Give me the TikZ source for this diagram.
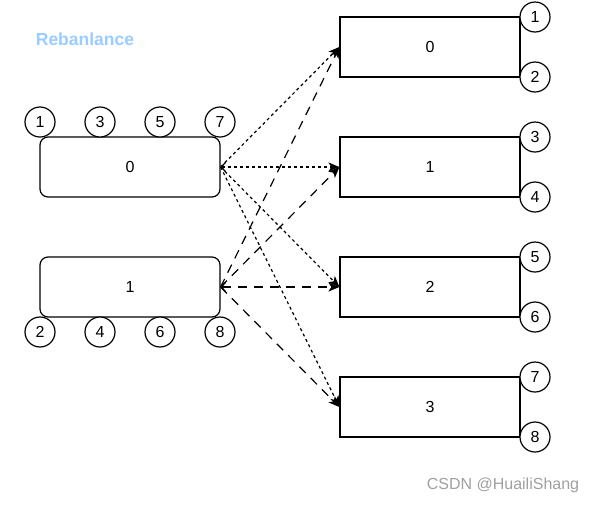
\documentclass[tikz,border=0pt]{standalone}
\usepackage{fontspec}
\setmainfont{Liberation Sans}
\usetikzlibrary{arrows.meta}
\definecolor{titleblue}{HTML}{99CCFF}
\definecolor{wmgray}{HTML}{A0A0A0}
\begin{document}
\begin{tikzpicture}[x=1pt,y=-1pt,
  box/.style={draw, line width=1.2pt, minimum width=180pt, minimum height=60pt, inner sep=0pt, font=\fontsize{16}{18}\selectfont},
  rbox/.style={box, rounded corners=8pt},
  num/.style={draw, circle, fill=white, line width=1.2pt, minimum size=30pt, inner sep=0pt, font=\fontsize{16}{18}\selectfont},
  tipend/.style={-{Stealth[length=11pt,width=9pt,inset=3pt]}},
  opentip/.style={{Straight Barb[length=4pt,width=9pt]}-{Stealth[length=11pt,width=9pt,inset=3pt]}},
  dotline/.style={line width=1.2pt, dash pattern=on 3pt off 3pt},
  longdash/.style={line width=1.2pt, dash pattern=on 9pt off 7pt}]
\useasboundingbox (0,0) rectangle (594,504);

% title
\node[font=\fontsize{17.5}{20}\selectfont\bfseries, text=titleblue] (title) at (85,39) {Rebanlance};

% left boxes
\node[rbox] (L0) at (130,167) {0};
\node[rbox] (L1) at (130,287) {1};

% right boxes
\node[box] (R0) at (430,47) {0};
\node[box] (R1) at (430,167) {1};
\node[box] (R2) at (430,287) {2};
\node[box] (R3) at (430,407) {3};

% left circles
\node[num] (a1) at (40,122) {1};
\node[num] (a3) at (100,122) {3};
\node[num] (a5) at (160,122) {5};
\node[num] (a7) at (220,122) {7};
\node[num] (a2) at (40,332) {2};
\node[num] (a4) at (100,332) {4};
\node[num] (a6) at (160,332) {6};
\node[num] (a8) at (220,332) {8};

% right circles
\node[num] (b1) at (535,17) {1};
\node[num] (b2) at (535,77) {2};
\node[num] (b3) at (535,137) {3};
\node[num] (b4) at (535,197) {4};
\node[num] (b5) at (535,257) {5};
\node[num] (b6) at (535,317) {6};
\node[num] (b7) at (535,377) {7};
\node[num] (b8) at (535,437) {8};

% dotted arrows from L0
\draw[dotline, tipend] (L0.east) -- (R0.west);
\draw[dotline, opentip] (L0.east) -- (R1.west);
\draw[dotline, tipend] (L0.east) -- (R2.west);
\draw[dotline, tipend] (L0.east) -- (R3.west);

% dashed arrows from L1
\draw[longdash, tipend] (L1.east) -- (R0.west);
\draw[longdash, tipend] (L1.east) -- (R1.west);
\draw[longdash, opentip] (L1.east) -- (R2.west);
\draw[longdash, tipend] (L1.east) -- (R3.west);

% watermark
\node[font=\fontsize{16}{18}\selectfont, text=wmgray] (wm) at (503,485) {CSDN @HuailiShang};
\end{tikzpicture}
\end{document}
